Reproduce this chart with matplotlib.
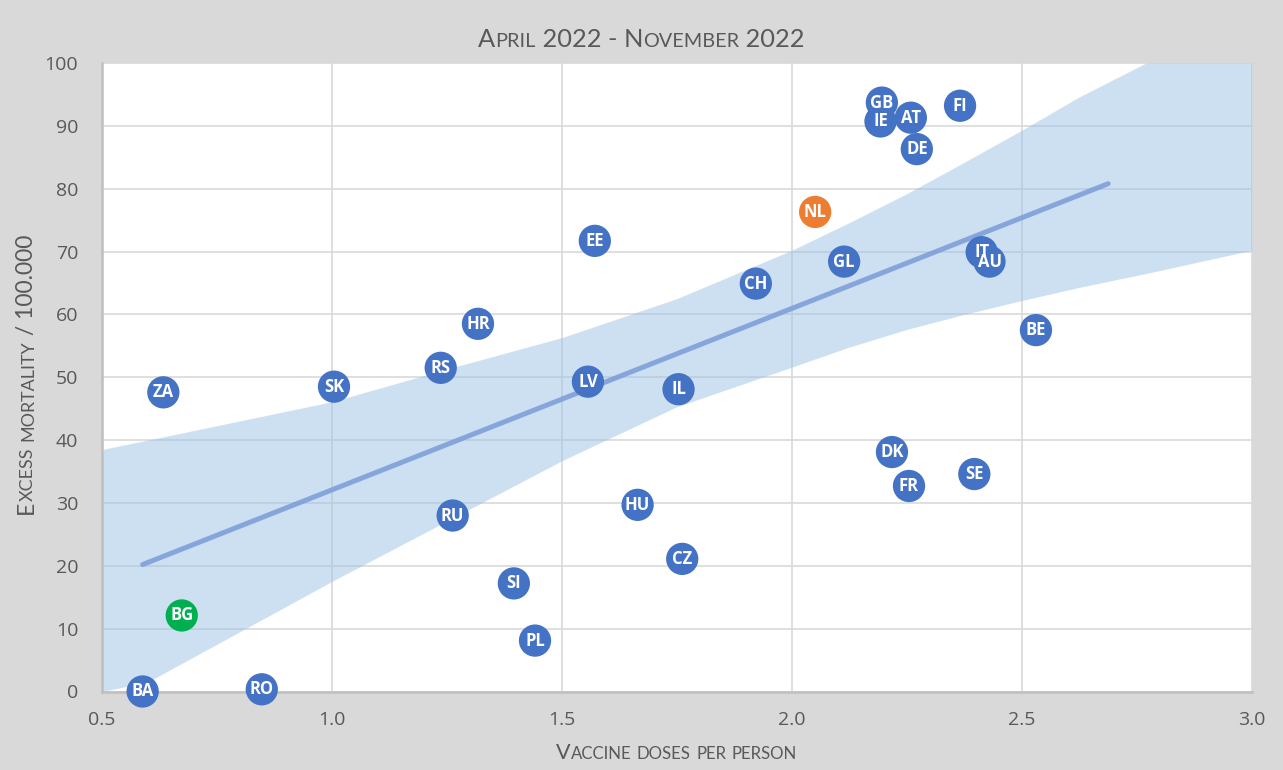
import re
import numpy as np
import matplotlib
matplotlib.use("Agg")
import matplotlib.pyplot as plt

# --- data ---
codes = ['BA', 'RO', 'BG', 'ZA', 'SK', 'RS', 'HR', 'RU', 'SI', 'PL', 'EE', 'LV', 'HU', 'IL', 'CZ',
         'CH', 'NL', 'GL', 'GB', 'IE', 'AT', 'DE', 'FI', 'DK', 'FR', 'SE', 'IT', 'AU', 'BE']
doses = [0.589, 0.848, 0.674, 0.634, 1.005, 1.237, 1.318, 1.263, 1.396, 1.442, 1.572, 1.557, 1.665, 1.754, 1.762,
         1.922, 2.051, 2.114, 2.196, 2.193, 2.259, 2.272, 2.366, 2.218, 2.255, 2.397, 2.413, 2.430, 2.531]
excess = [0.0, 0.35, 12.1, 47.6, 48.5, 51.5, 58.5, 28.0, 17.2, 8.1, 71.7, 49.3, 29.7, 48.1, 21.1,
          64.9, 76.3, 68.4, 93.7, 90.7, 91.3, 86.3, 93.2, 38.1, 32.7, 34.6, 69.9, 68.4, 57.5]
highlight = {'NL': '#ed7d31', 'BG': '#00b050'}

# trend line end points and confidence band
fit_x = [0.589, 2.688]
fit_y = [20.2, 80.8]
band_x = [0.5, 0.6, 1.0, 1.25, 1.5, 1.75, 2.0, 2.125, 2.25, 2.375, 2.5, 2.625, 2.77, 3.0]
band_hi = [38.5, 40.0, 46.1, 51.3, 56.3, 62.5, 70.2, 74.6, 79.2, 84.2, 89.3, 94.6, 100, 100]
band_lo = [0.0, 1.5, 17.5, 27.1, 36.7, 45.3, 51.6, 54.8, 57.6, 60.0, 62.2, 64.3, 66.5, 70.2]

xticks = [0.5, 1.0, 1.5, 2.0, 2.5, 3.0]
yticks = [0, 10, 20, 30, 40, 50, 60, 70, 80, 90, 100]

TXT = '#595959'
FONT = 'Lato'

fig = plt.figure(figsize=(12.83, 7.70), dpi=100, facecolor='#d9d9d9')
ax = fig.add_axes([101.7 / 1283, 1 - 691.5 / 770, (1251.7 - 101.7) / 1283, (691.5 - 63) / 770])
ax.set_facecolor('white')

ax.set_xlim(0.5, 3.0)
ax.set_ylim(0, 100)
ax.set_xticks(xticks)
ax.set_yticks(yticks)
ax.set_xticklabels([f'{t:.1f}' for t in xticks])
ax.tick_params(length=0, labelsize=14, labelcolor=TXT)
ax.tick_params(axis='y', pad=17)
ax.tick_params(axis='x', pad=14)
for lab in ax.get_xticklabels() + ax.get_yticklabels():
    lab.set_family('Open Sans')

ax.grid(True, color='#d9d9d9', linewidth=1.2, zorder=0)
ax.set_axisbelow(True)
for side in ['top', 'right']:
    ax.spines[side].set_visible(False)
for side in ['left', 'bottom']:
    ax.spines[side].set_color('#bfbfbf')
    ax.spines[side].set_linewidth(1.8)

ax.fill_between(band_x, band_lo, band_hi, color='#9dc3e6', alpha=0.5, linewidth=0, zorder=1)
ax.plot(fit_x, fit_y, color='#7f9fd8', linewidth=3.6, alpha=0.9, solid_capstyle='round', zorder=2)

cols = [highlight.get(c, '#4472c4') for c in codes]
ax.scatter(doses, excess, s=540, c=cols, edgecolors='none', zorder=3, clip_on=False)
for c, x, y in zip(codes, doses, excess):
    ax.text(x, y, c, color='white', fontsize=12, fontweight='bold', family='Open Sans',
            ha='center', va='center', zorder=4, clip_on=False)


# small caps helper: lowercase letters drawn as smaller capitals
def small_caps(xc, yc, s, size, rotation=0, ratio=0.78):
    renderer = fig.canvas.get_renderer()
    runs = re.findall(r'[a-z]+|[^a-z]+', s)

    def width(txt, sz):
        t1 = fig.text(0, 0, '|' + txt + '|', fontsize=sz, family=FONT)
        t2 = fig.text(0, 0, '||', fontsize=sz, family=FONT)
        w = t1.get_window_extent(renderer).width - t2.get_window_extent(renderer).width
        t1.remove()
        t2.remove()
        return w

    pieces = []
    for r in runs:
        sz = size * ratio if r.islower() else size
        pieces.append((r.upper(), sz, width(r.upper(), sz)))
    total = sum(p[2] for p in pieces)
    W, H = fig.bbox.width, fig.bbox.height
    if rotation == 0:
        pos = xc * W - total / 2
        for txt, sz, w in pieces:
            fig.text(pos / W, yc, txt, fontsize=sz, family=FONT, color=TXT, ha='left', va='baseline')
            pos += w
    else:
        pos = yc * H - total / 2
        for txt, sz, w in pieces:
            fig.text(xc, pos / H, txt, fontsize=sz, family=FONT, color=TXT, ha='left', va='baseline',
                     rotation=90, rotation_mode='anchor')
            pos += w


small_caps(0.5, 1 - 47 / 770, 'April 2022 - November 2022', 18.3)
small_caps(0.5 * (101.7 + 1251.7) / 1283, 1 - 759 / 770, 'Vaccine doses per person', 15.5)
small_caps(33 / 1283, 1 - 374 / 770, 'Excess mortality / 100.000', 16.5, rotation=90)

fig.savefig('out.png', dpi=100, facecolor=fig.get_facecolor())
